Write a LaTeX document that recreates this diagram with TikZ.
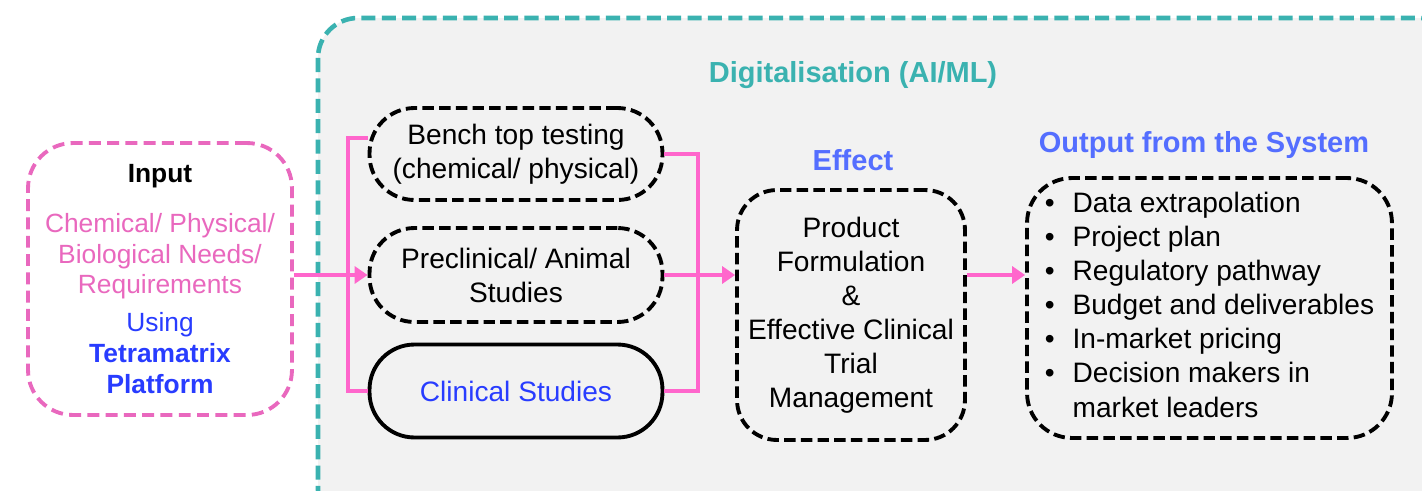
\documentclass[tikz,border=0pt]{standalone}
\usepackage{fontspec}
\setmainfont{Liberation Sans}
\usetikzlibrary{arrows.meta}

\definecolor{digiteal}{RGB}{58,178,176}
\definecolor{panelgray}{RGB}{242,242,242}
\definecolor{linkpink}{RGB}{255,102,204}
\definecolor{inpink}{RGB}{233,104,190}
\definecolor{usingblue}{RGB}{40,60,255}
\definecolor{headblue}{RGB}{84,110,255}

\tikzset{
	bodyfont/.style={font=\fontsize{16}{19.4}\selectfont},
	stagebox/.style={draw=black, line width=2.2pt, rounded corners=0.9cm, fill=panelgray, align=center, bodyfont},
	dashbox/.style={stagebox, dash pattern=on 6.5pt off 3pt},
	headline/.style={font=\fontsize{16.5}{19.4}\selectfont\bfseries},
	pinkline/.style={draw=linkpink, line width=2.2pt},
	pinkarrow/.style={pinkline, -{Triangle[length=0.26cm, width=0.34cm]}}
}

\begin{document}
\begin{tikzpicture}[x=0.02cm, y=-0.02cm]
	\clip (0,0) rectangle (1422,490);
	\fill[white] (0,0) rectangle (1422,490);

	\draw [digiteal, fill=panelgray, line width=2.6pt, dash pattern=on 8pt off 3.6pt, rounded corners=0.8cm] (318,18) rectangle (1460,530);
	\node [headline, text=digiteal] (digi) at (853,75) {Digitalisation (AI/ML)};

	\node [draw=inpink, fill=white, line width=2.2pt, dash pattern=on 6.8pt off 3.6pt, rounded corners=0.9cm,
		minimum width=5.28cm, minimum height=5.44cm, align=center, font=\fontsize{15}{17.6}\selectfont] (input) at (160,279)
		{\textbf{Input}\\[0.38cm]
		\textcolor{inpink}{Chemical/ Physical/}\\
		\textcolor{inpink}{Biological Needs/}\\
		\textcolor{inpink}{Requirements}\\[0.14cm]
		\textcolor{usingblue}{Using}\\
		\textcolor{usingblue}{\textbf{Tetramatrix}}\\
		\textcolor{usingblue}{\textbf{Platform}}};

	\node [dashbox, minimum width=5.86cm, minimum height=1.84cm] (bench) at (516,154) {Bench top testing\\(chemical/ physical)};
	\node [dashbox, minimum width=5.86cm, minimum height=1.88cm] (preclin) at (516,275) {Preclinical/ Animal\\Studies};
	\node [stagebox, minimum width=5.86cm, minimum height=1.86cm, text=usingblue] (clinical) at (516,391) {Clinical Studies};

	\node [headline, text=headblue] (effhead) at (853,160) {Effect};
	\node [dashbox, rounded corners=0.8cm, minimum width=4.56cm, minimum height=5cm] (effect) at (851,315)
		{Product\\Formulation\\\&\\Effective Clinical\\Trial\\Management};

	\node [headline, text=headblue] (outhead) at (1204,145) {Output from the System};
	\node [dashbox, minimum width=7.3cm, minimum height=5.2cm] (output) at (1209.5,308)
		{\begin{tabular}{@{}l@{\hspace{0.36cm}}l@{}}
		\textbullet & Data extrapolation\\
		\textbullet & Project plan\\
		\textbullet & Regulatory pathway\\
		\textbullet & Budget and deliverables\\
		\textbullet & In-market pricing\\
		\textbullet & Decision makers in\\
		 & market leaders
		\end{tabular}};

	\draw [pinkarrow] (input.east |- preclin) -- (preclin.west);
	\draw [pinkline] ([yshift=0.32cm]bench.west) -- ++(-20,0) |- (clinical.west);
	\draw [pinkline] (bench.east) -- ++(34,0) |- (clinical.east);
	\draw [pinkarrow] (preclin.east) -- (preclin.east -| effect.west);
	\draw [pinkarrow] (effect.east |- preclin) -- (output.west |- preclin);
\end{tikzpicture}
\end{document}
